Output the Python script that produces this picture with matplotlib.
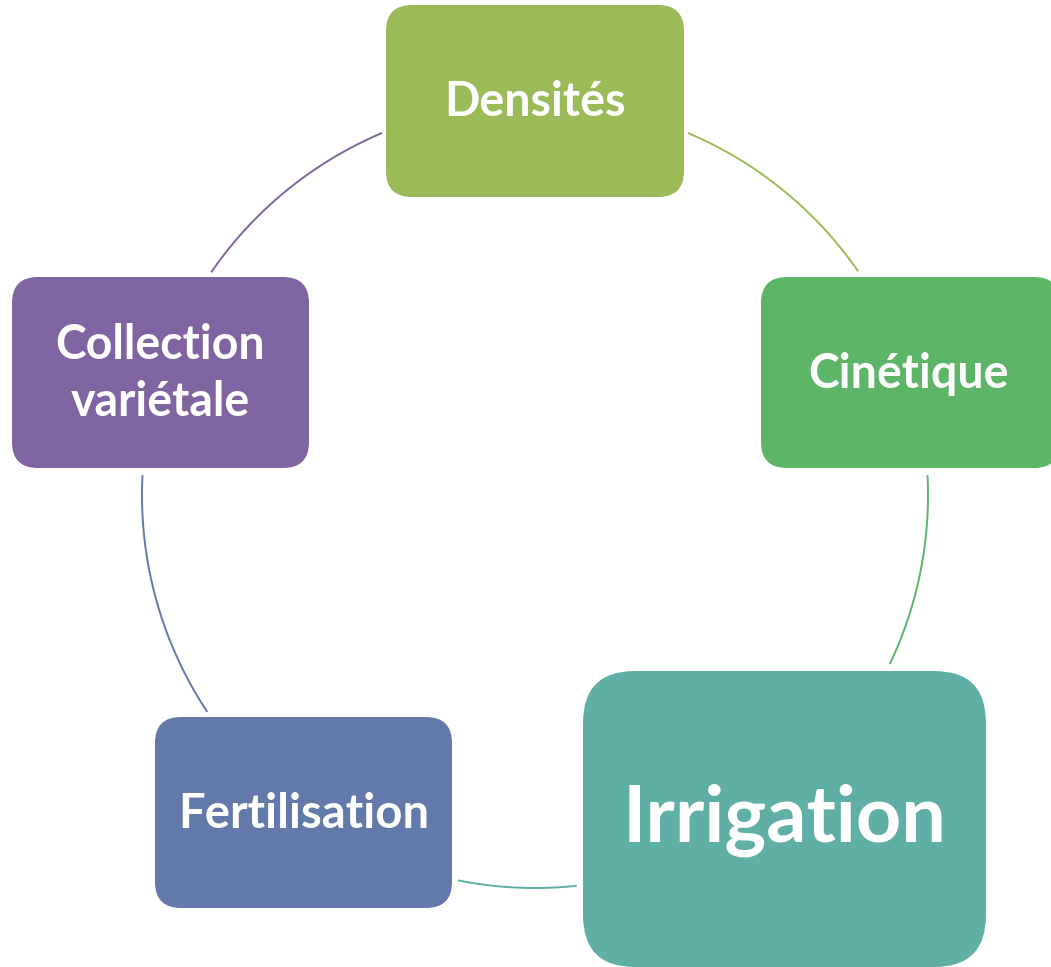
#!/usr/bin/env python
# Cycle diagram (SmartArt style) - five rounded boxes joined by arcs

import numpy as np
import matplotlib
matplotlib.use('Agg')
import matplotlib.pyplot as plt
from matplotlib.patches import FancyBboxPatch

# Data
labels = ['Densités', 'Cinétique', 'Irrigation', 'Fertilisation', 'Collection\nvariétale']
colors = ['#9BBB59', '#5DB567', '#5FAFA7', '#6379A9', '#8064A2']
font_sizes = [33.5, 33.5, 57, 34, 33.5]

# Layout (pixel coords, y down)
boxes = [  # x0, y0, x1, y1, corner radius
    (386, 5, 684, 197, 26),
    (761, 277, 1060, 468, 26),
    (583, 671, 986, 967, 52),
    (155, 717, 452, 908, 26),
    (12, 277, 309, 468, 26),
]
# arc from box i to box i+1 (degrees, counter clockwise, y up)
arc_start = [67.1, 2.9, -83.9, -146.5, 145.5]
arc_end = [34.7, -25.5, -101.3, -182.9, 112.9]
cx, cy, r = 535, 495, 393

plt.rcParams['font.family'] = ['Lato', 'DejaVu Sans']

fig = plt.figure(figsize=(10.51, 9.67), dpi=100)
ax = fig.add_axes([0, 0, 1, 1])
ax.set_xlim(0, 1051)
ax.set_ylim(967, 0)
ax.axis('off')

# arcs first so the boxes sit on top
for a0, a1, c in zip(arc_start, arc_end, colors):
    t = np.radians(np.linspace(a0, a1, 100))
    ax.plot(cx + r * np.cos(t), cy - r * np.sin(t), color=c, lw=1.4,
            solid_capstyle='butt', zorder=1)

for (x0, y0, x1, y1, rad), lab, c, fs in zip(boxes, labels, colors, font_sizes):
    box = FancyBboxPatch((x0, y0), x1 - x0, y1 - y0,
                         boxstyle='round,pad=0,rounding_size=%d' % rad,
                         facecolor=c, edgecolor='none', zorder=2)
    ax.add_patch(box)
    xc = (x0 + x1) / 2 if x1 <= 1051 else (x0 + 1051) / 2 + 3
    ax.text(xc, (y0 + y1) / 2 + 1, lab, color='white', fontsize=fs,
            fontweight='bold', ha='center', va='center',
            linespacing=1.35, zorder=3)

plt.savefig('out.png', dpi=100, facecolor='white')
